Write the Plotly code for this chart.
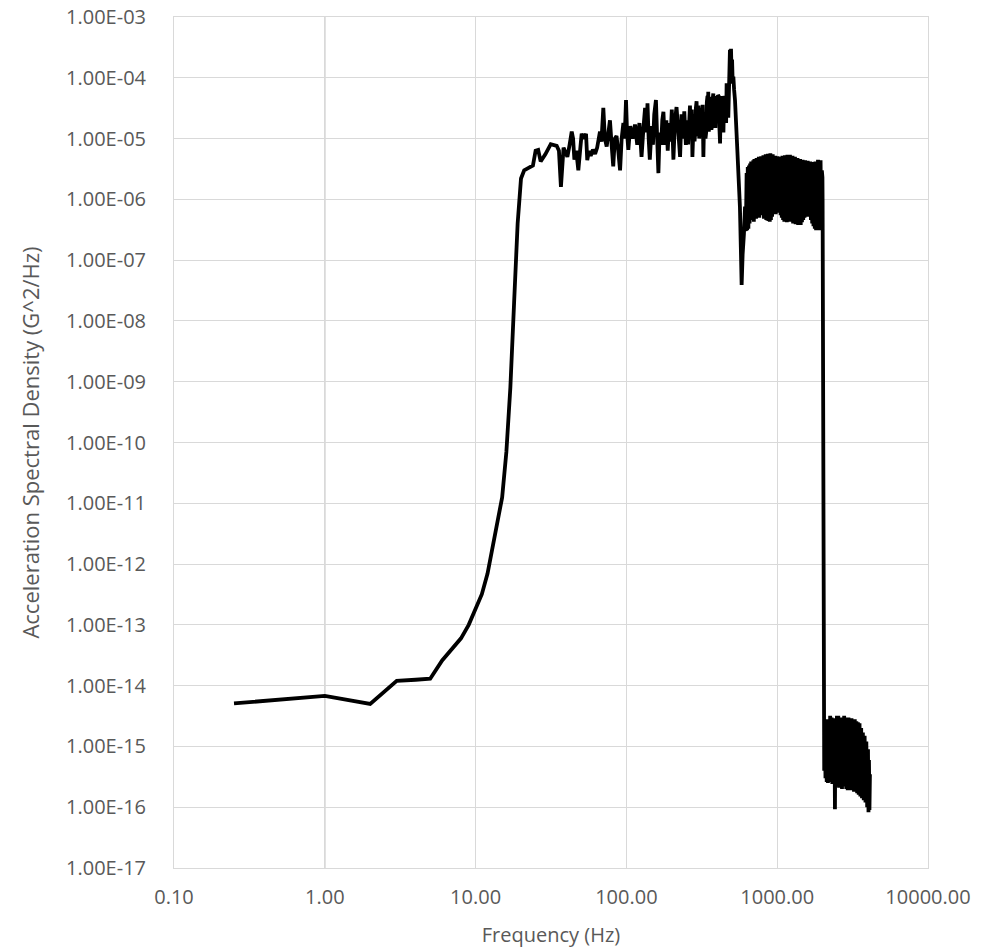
import plotly.graph_objects as go

# ---------------- data ----------------
low_freq = [0.25, 1, 2, 3, 4, 5, 6, 7, 8, 9, 10, 11, 12, 13, 14, 15, 16, 17, 18, 19, 20]
low_asd = [5.1e-15, 6.8e-15, 5.0e-15, 1.2e-14, 1.25e-14, 1.3e-14, 2.6e-14, 4.1e-14, 6.0e-14,
           1.0e-13, 1.8e-13, 3.2e-13, 7.0e-13, 2.0e-12, 5.0e-12, 1.25e-11, 7.0e-11, 8.0e-10,
           2.0e-8, 4.0e-7, 2.2e-6]

mid_freq = [21, 22, 23, 24, 25, 26, 27, 29, 31.5, 33, 34.5, 35.7, 36.8, 38.3, 39.5, 40.6, 42,
            43.4, 44.3, 45.2, 46.5, 48, 49.3, 50.5, 52, 54, 55, 56.5, 58, 60, 62, 64, 66.8, 68.3,
            70.3, 72, 74, 75.8, 77.8, 79.8, 81.8, 83.8, 86, 88.3, 90.8, 93, 95.5, 97.4, 99.4,
            101, 103, 106, 110, 114, 118, 122, 126, 130, 133, 136, 138, 140.5, 143, 147, 150,
            153, 157, 160, 163, 166, 170, 173, 176, 180, 184, 188, 192, 196, 200, 205, 210, 215,
            220, 227, 232, 237, 242, 248]
mid_asd = [3.0e-6, 3.2e-6, 3.4e-6, 3.6e-6, 6.3e-6, 6.5e-6, 4.2e-6, 5.5e-6, 8.1e-6, 7.9e-6, 7.6e-6,
           6.3e-6, 1.6e-6, 7.1e-6, 6.0e-6, 5.0e-6, 7.9e-6, 1.3e-5, 1.0e-5, 4.5e-6, 6.3e-6, 3.0e-6,
           6.3e-6, 1.2e-5, 1.0e-5, 1.2e-5, 4.4e-6, 6.3e-6, 5.2e-6, 6.6e-6, 5.6e-6, 7.1e-6, 1.3e-5,
           8.9e-6, 3.2e-5, 1.0e-5, 7.4e-6, 1.26e-5, 2.0e-5, 7.9e-6, 3.5e-6, 1.0e-5, 1.1e-5, 6.3e-6,
           3.0e-6, 1.0e-5, 1.8e-5, 1.0e-5, 4.3e-5, 1.26e-5, 6.5e-6, 1.6e-5, 1.0e-5, 1.7e-5, 7.9e-6,
           1.8e-5, 5.0e-6, 1.6e-5, 3.2e-5, 1.26e-5, 3.8e-5, 1.0e-5, 4.5e-6, 1.6e-5, 7.9e-6, 2.5e-5,
           4.3e-5, 1.0e-5, 2.7e-6, 1.26e-5, 7.9e-6, 2.0e-5, 2.75e-5, 7.9e-6, 2.0e-5, 6.3e-6, 1.8e-5,
           8.9e-6, 3.0e-5, 4.5e-6, 2.0e-5, 3.3e-5, 1.26e-5, 5.0e-6, 2.5e-5, 1.0e-5, 2.8e-5, 7.9e-6]

upper_freq = [254, 256.5, 259, 261.5, 264, 266.5, 269, 271.5, 274, 277, 280, 283, 286, 289, 292,
              295, 298, 301, 304, 307, 310, 313.5, 317, 320.5, 324, 327.5, 331, 334.5, 338,
              341.5, 345, 347, 349, 352, 355, 358.5, 362, 366, 370, 373.5, 377, 381, 385, 389,
              393, 397, 401, 405, 409, 413.5, 418, 421.5, 425, 428.5, 432, 436, 440, 444, 448,
              451.5, 455, 458.5, 462, 466, 470, 474, 478, 482, 486, 490, 494, 498, 502, 507, 512,
              518, 525, 544, 556, 566, 574, 581, 590, 597, 602, 612, 620]
upper_asd = [2.0e-5, 8.0e-6, 1.26e-5, 2.5e-5, 3.5e-5, 1.0e-5, 1.6e-5, 3.0e-5, 5.0e-6, 1.8e-5,
             2.5e-5, 9.0e-6, 1.26e-5, 3.2e-5, 4.1e-5, 1.1e-5, 1.6e-5, 3.5e-5, 1.0e-5, 2.2e-5,
             3.2e-5, 1.1e-5, 1.26e-5, 3.6e-5, 5.0e-6, 2.0e-5, 2.5e-5, 1.0e-5, 1.26e-5, 4.0e-5,
             5.0e-5, 1.5e-5, 5.9e-5, 1.3e-5, 2.0e-5, 4.8e-5, 4.5e-5, 1.4e-5, 1.6e-5, 4.5e-5,
             5.5e-5, 1.6e-5, 3.2e-5, 1.5e-5, 5.0e-5, 1.8e-5, 2.5e-5, 5.2e-5, 5.0e-5, 1.6e-5,
             8.3e-6, 3.0e-5, 2.5e-5, 1.5e-5, 5.0e-5, 2.0e-5, 1.26e-5, 4.5e-5, 5.0e-5, 2.0e-5,
             3.2e-5, 1.8e-5, 8.1e-5, 2.5e-5, 5.0e-5, 2.2e-5, 1.26e-4, 6.3e-5, 2.9e-4, 1.6e-4,
             3.0e-4, 1.26e-4, 2.0e-4, 8.0e-5, 1.05e-4, 6.3e-5, 4.3e-5, 6.5e-6, 2.0e-6, 7.6e-7,
             1.6e-7, 3.9e-8, 1.26e-7, 1.7e-7, 2.75e-7, 7.6e-7, 3.0e-7]

band_freq = [627, 632, 638, 644, 650, 656, 661, 667, 672, 678, 683, 689, 694, 700, 706, 712, 718,
             724, 730, 736, 742, 748, 755, 761, 768, 775, 782, 789, 796, 803, 810, 817, 824, 831,
             839, 846, 854, 861, 869, 877, 885, 893, 901, 909, 917, 925, 934, 942, 951, 960, 969,
             978, 987, 996, 1005, 1015, 1024, 1034, 1044, 1053, 1063, 1073, 1083, 1094, 1104, 1115,
             1125, 1136, 1147, 1158, 1169, 1180, 1192, 1203, 1215, 1227, 1239, 1251, 1263, 1275,
             1287, 1300, 1312, 1325, 1338, 1351, 1364, 1377, 1391, 1404, 1418, 1432, 1446, 1460,
             1474, 1488, 1503, 1518, 1532, 1547, 1563, 1578, 1593, 1609, 1625, 1641, 1657, 1673,
             1689, 1706, 1723, 1740, 1757, 1775, 1792, 1810, 1828, 1846, 1864, 1883, 1901, 1920,
             1939, 1958, 1977, 1995, 2000]
band_asd = [2.7e-6, 3.1e-7, 3.4e-6, 3.3e-7, 3.6e-6, 4.0e-7, 3.9e-6, 4.6e-7, 4.2e-6, 4.6e-7, 4.0e-6,
            5.0e-7, 4.4e-6, 4.3e-7, 4.6e-6, 5.2e-7, 4.5e-6, 4.8e-7, 4.8e-6, 5.3e-7, 4.6e-6, 5.5e-7,
            5.0e-6, 5.0e-7, 4.8e-6, 5.6e-7, 5.1e-6, 5.5e-7, 4.9e-6, 5.6e-7, 5.3e-6, 4.8e-7, 5.0e-6,
            5.2e-7, 5.5e-6, 4.6e-7, 5.2e-6, 4.5e-7, 5.6e-6, 4.4e-7, 5.4e-6, 4.3e-7, 5.75e-6, 4.6e-7,
            5.3e-6, 5.2e-7, 5.5e-6, 5.8e-7, 5.0e-6, 6.2e-7, 5.2e-6, 5.7e-7, 4.9e-6, 6.0e-7, 5.1e-6,
            6.6e-7, 4.8e-6, 6.2e-7, 5.0e-6, 5.5e-7, 4.7e-6, 5.0e-7, 5.2e-6, 4.6e-7, 4.9e-6, 4.3e-7,
            5.3e-6, 4.6e-7, 5.0e-6, 4.2e-7, 5.4e-6, 4.5e-7, 5.1e-6, 4.3e-7, 5.4e-6, 4.8e-7, 4.9e-6,
            4.4e-7, 5.2e-6, 4.0e-7, 4.7e-6, 4.2e-7, 5.0e-6, 3.9e-7, 4.6e-6, 4.1e-7, 4.8e-6, 3.8e-7,
            4.4e-6, 4.0e-7, 4.6e-6, 3.8e-7, 4.3e-6, 4.2e-7, 4.5e-6, 4.6e-7, 4.2e-6, 5.0e-7, 4.4e-6,
            5.4e-7, 4.1e-6, 5.6e-7, 4.3e-6, 5.2e-7, 4.0e-6, 5.5e-7, 4.2e-6, 4.6e-7, 3.9e-6, 4.0e-7,
            4.1e-6, 3.6e-7, 3.8e-6, 3.3e-7, 4.2e-6, 3.1e-7, 4.0e-6, 3.1e-7, 4.5e-6, 3.4e-7, 4.3e-6,
            3.1e-7, 4.4e-6, 3.2e-7, 3.0e-6, 2.3e-6, 1.0e-6]

tail_freq = [2020, 2035, 2050, 2070, 2090, 2110, 2130, 2150, 2170, 2195, 2220, 2245, 2270, 2295,
             2320, 2345, 2370, 2395, 2415, 2435, 2460, 2490, 2515, 2540, 2570, 2600, 2630, 2660,
             2690, 2720, 2750, 2780, 2810, 2840, 2870, 2900, 2935, 2970, 3005, 3040, 3075, 3110,
             3150, 3190, 3230, 3270, 3310, 3350, 3390, 3430, 3470, 3515, 3560, 3605, 3650, 3700,
             3750, 3800, 3850, 3900, 3950, 4000, 4030, 4060, 4090, 4120]
tail_asd = [8.0e-16, 2.0e-15, 4.0e-16, 2.4e-15, 3.0e-16, 2.3e-15, 2.6e-16, 2.8e-15, 2.5e-16,
            2.6e-15, 2.8e-16, 3.2e-15, 2.6e-16, 3.0e-15, 2.4e-16, 2.7e-15, 2.5e-16, 2.9e-15,
            9.3e-17, 2.6e-15, 2.7e-16, 3.2e-15, 2.2e-16, 3.2e-15, 2.1e-16, 2.8e-15, 2.2e-16,
            3.0e-15, 2.0e-16, 2.7e-15, 2.3e-16, 3.2e-15, 2.2e-16, 3.0e-15, 2.0e-16, 2.8e-15,
            1.9e-16, 3.0e-15, 2.1e-16, 2.8e-15, 1.9e-16, 2.9e-15, 2.0e-16, 2.7e-15, 1.8e-16,
            2.8e-15, 1.9e-16, 2.6e-15, 1.7e-16, 2.5e-15, 1.6e-16, 2.4e-15, 1.5e-16, 2.0e-15,
            1.4e-16, 1.7e-15, 1.3e-16, 1.5e-15, 1.2e-16, 1.2e-15, 1.0e-16, 9.0e-16, 8.3e-17,
            6.0e-16, 9.0e-17, 3.5e-16]

x_tickvals = [0.1, 1, 10, 100, 1000, 10000]
x_ticktext = ["0.10", "1.00", "10.00", "100.00", "1000.00", "10000.00"]
y_tickvals = [1e-3, 1e-4, 1e-5, 1e-6, 1e-7, 1e-8, 1e-9, 1e-10, 1e-11, 1e-12, 1e-13, 1e-14,
              1e-15, 1e-16, 1e-17]
y_ticktext = ["1.00E-03", "1.00E-04", "1.00E-05", "1.00E-06", "1.00E-07", "1.00E-08",
              "1.00E-09", "1.00E-10", "1.00E-11", "1.00E-12", "1.00E-13", "1.00E-14",
              "1.00E-15", "1.00E-16", "1.00E-17"]
x_title = "Frequency (Hz)"
y_title = "Acceleration Spectral Density (G^2/Hz)"
y_axis_cross = 1  # value axis crosses the log x axis at 1

freq = low_freq + mid_freq + upper_freq + band_freq + tail_freq
asd = low_asd + mid_asd + upper_asd + band_asd + tail_asd

# ---------------- figure ----------------
GRID = "#d9d9d9"
TXT = "#595959"
FONT = "Open Sans"

fig = go.Figure()
fig.add_trace(go.Scatter(x=freq, y=asd, mode="lines",
                         line=dict(color="black", width=3.8),
                         showlegend=False, hoverinfo="x+y"))

fig.add_shape(type="line", xref="x", yref="paper", x0=y_axis_cross, x1=y_axis_cross,
              y0=0, y1=1, line=dict(color="#bfbfbf", width=1.3), layer="below")

fig.update_xaxes(type="log", range=[-1, 4], tickvals=x_tickvals, ticktext=x_ticktext,
                 showgrid=True, gridcolor=GRID, gridwidth=1,
                 showline=True, linecolor=GRID, linewidth=1, mirror=True,
                 ticks="", ticklabelstandoff=11,
                 tickfont=dict(family=FONT, size=20, color=TXT),
                 title=dict(text=x_title, font=dict(family=FONT, size=20, color=TXT), standoff=18),
                 zeroline=False)
fig.update_yaxes(type="log", range=[-17, -3], tickvals=y_tickvals, ticktext=y_ticktext,
                 showgrid=True, gridcolor=GRID, gridwidth=1,
                 showline=True, linecolor=GRID, linewidth=1, mirror=True,
                 ticks="", ticklabelstandoff=23,
                 tickfont=dict(family=FONT, size=20, color=TXT),
                 title=dict(text=y_title, font=dict(family=FONT, size=22, color=TXT), standoff=20),
                 zeroline=False)

fig.update_layout(width=1004, height=951,
                  margin=dict(l=174, r=76, t=17, b=83, autoexpand=False),
                  paper_bgcolor="white", plot_bgcolor="white",
                  font=dict(family=FONT, color=TXT))

fig.write_html("out.html")
